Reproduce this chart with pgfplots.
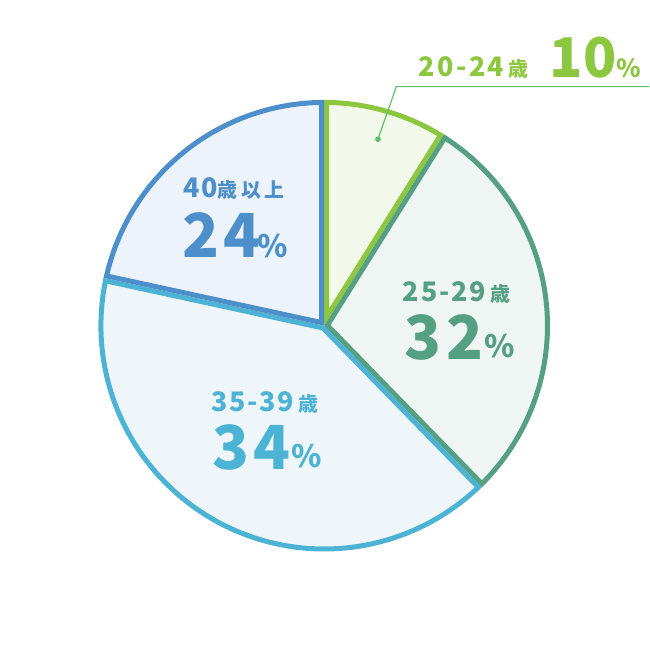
\documentclass[border=0pt]{standalone}
\usepackage{pgfplots}
\pgfplotsset{compat=1.18}
\usepackage{pgfplotstable}
\usepackage{fontspec}
\newfontfamily\jp{Noto Sans CJK JP}

\definecolor{gA}{HTML}{8DC63F}\definecolor{gAf}{HTML}{F2F8EA}
\definecolor{gB}{HTML}{55A083}\definecolor{gBf}{HTML}{EEF5F2}
\definecolor{gC}{HTML}{4DB3D4}\definecolor{gCf}{HTML}{EEF6FA}
\definecolor{gD}{HTML}{4D8FCB}\definecolor{gDf}{HTML}{EDF3FB}
\definecolor{lead}{HTML}{5CC26A}

% shares of the circle as drawn (clockwise from 12 o'clock)
\pgfplotstableread{
share
8.9
28.8
40.7
21.6
}\pietable

% centre, outer radius and stroke width in pixels
\def\cx{324.5}\def\cy{326}\def\R{226}\def\w{5}
\pgfmathsetmacro\d{\w/2}
\pgfmathsetmacro\Rp{\R-\d}
\gdef\pieS{90}

% one slice, stroked on its inner side only
\newcommand\pieslice[3]{%
  \pgfplotstablegetelem{#1}{share}\of\pietable
  \pgfmathsetmacro\pieE{\pieS-3.6*\pgfplotsretval}%
  \pgfmathsetmacro\pieH{(\pieS-\pieE)/2}%
  \pgfmathsetmacro\pieM{(\pieS+\pieE)/2}%
  \pgfmathsetmacro\pieK{\d/sin(\pieH)}%
  \pgfmathsetmacro\pieAx{\cx+\pieK*cos(\pieM)}%
  \pgfmathsetmacro\pieAy{\cy-\pieK*sin(\pieM)}%
  \pgfmathsetmacro\pieDel{asin(\d/\Rp)}%
  \pgfmathsetmacro\pieTa{\pieE+\pieDel}%
  \pgfmathsetmacro\pieTb{\pieS-\pieDel}%
  \edef\doslice{\noexpand\addplot[draw=#2, fill=#3, line width=\w bp,
      line join=miter, domain=\pieTa:\pieTb, samples=150]
    ({\cx+\Rp*cos(x)}, {\cy-\Rp*sin(x)}) -- (axis cs:\pieAx,\pieAy) -- cycle;}%
  \doslice
  \global\let\pieS\pieE
}

\newcommand\lab[1]{\jp\bfseries\fontsize{#1}{#1}\selectfont}

\begin{document}
\begin{tikzpicture}
\begin{axis}[
  scale only axis, width=650bp, height=650bp,
  xmin=0, xmax=650, ymin=0, ymax=650, y dir=reverse,
  hide axis, clip=false]
\path (rel axis cs:0,0) rectangle (rel axis cs:1,1);
\pieslice{0}{gA}{gAf}
\pieslice{1}{gB}{gBf}
\pieslice{2}{gC}{gCf}
\pieslice{3}{gD}{gDf}

% leader for the small slice
\addplot[lead, line width=1.2bp, mark=*, mark size=2.2bp, mark indices={1},
  mark options={fill=lead, draw=lead}]
  coordinates {(378.3,139.3) (396.7,86.7) (650,86.7)};

\node[anchor=base west, inner sep=0, text=gA] at (axis cs:419,77)
  {\lab{27}\addfontfeatures{LetterSpace=9}20-24\,\lab{20}歳};
\node[anchor=base west, inner sep=0, text=gA] at (axis cs:550,78) {\lab{55}10};
\node[anchor=base west, inner sep=0, text=gA] at (axis cs:617,78) {\lab{25}\%};

\node[anchor=base west, inner sep=0, text=gD] at (axis cs:183,198)
  {\lab{27}\addfontfeatures{LetterSpace=8}40\lab{20}\addfontfeatures{LetterSpace=16}歳以上};
\node[anchor=base west, inner sep=0, text=gD] at (axis cs:182,258)
  {\lab{61}\addfontfeatures{LetterSpace=7}24};
\node[anchor=base west, inner sep=0, text=gD] at (axis cs:258,258) {\lab{31}\%};

\node[anchor=base west, inner sep=0, text=gB] at (axis cs:403,302)
  {\lab{27}\addfontfeatures{LetterSpace=7}25-29\,\lab{20}歳};
\node[anchor=base west, inner sep=0, text=gB] at (axis cs:405,360)
  {\lab{61}\addfontfeatures{LetterSpace=7}32};
\node[anchor=base west, inner sep=0, text=gB] at (axis cs:485,358) {\lab{31}\%};

\node[anchor=base west, inner sep=0, text=gC] at (axis cs:211,412)
  {\lab{27}\addfontfeatures{LetterSpace=7}35-39\,\lab{20}歳};
\node[anchor=base west, inner sep=0, text=gC] at (axis cs:212,470)
  {\lab{61}\addfontfeatures{LetterSpace=7}34};
\node[anchor=base west, inner sep=0, text=gC] at (axis cs:292,468) {\lab{31}\%};
\end{axis}
\end{tikzpicture}
\end{document}
